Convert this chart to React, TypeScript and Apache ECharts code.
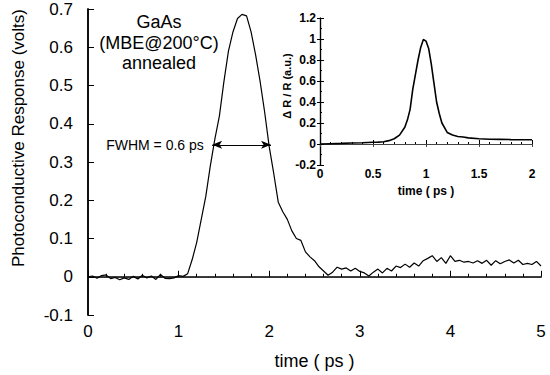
import React, { useEffect, useRef } from "react";
import * as echarts from "echarts";

// Main trace: time (ps) and photoconductive response (volts)
const mainTime: number[] = [
  0.0, 0.05, 0.1, 0.15, 0.2, 0.25, 0.3, 0.35, 0.4, 0.45, 0.5, 0.55, 0.6, 0.65, 0.7, 0.75, 0.8, 0.85, 0.9, 0.95,
  1.0, 1.05, 1.1, 1.15, 1.2, 1.25, 1.3, 1.35, 1.4, 1.45, 1.5, 1.55, 1.6, 1.65, 1.7, 1.75, 1.8, 1.85, 1.9, 1.95,
  2.0, 2.05, 2.1, 2.15, 2.2, 2.25, 2.3, 2.35, 2.4, 2.45, 2.5, 2.55, 2.6, 2.65, 2.7, 2.75, 2.8, 2.85, 2.9, 2.95,
  3.0, 3.05, 3.1, 3.15, 3.2, 3.25, 3.3, 3.35, 3.4, 3.45, 3.5, 3.55, 3.6, 3.65, 3.7, 3.75, 3.8, 3.85, 3.9, 3.95,
  4.0, 4.05, 4.1, 4.15, 4.2, 4.25, 4.3, 4.35, 4.4, 4.45, 4.5, 4.55, 4.6, 4.65, 4.7, 4.75, 4.8, 4.85, 4.9, 4.95,
  5.0,
];
const mainVolts: number[] = [
  0.0, 0.002, -0.004, 0.003, 0.005, -0.005, -0.002, -0.008, -0.003, -0.007, 0.001, -0.006, 0.004, -0.003, 0.002, -0.007, 0.006, -0.004, -0.005, -0.003,
  0.003, 0.001, 0.008, 0.045, 0.09, 0.15, 0.21, 0.29, 0.36, 0.42, 0.51, 0.59, 0.64, 0.675, 0.686, 0.682, 0.64, 0.58, 0.51, 0.43,
  0.34, 0.27, 0.195, 0.17, 0.15, 0.12, 0.1, 0.095, 0.065, 0.052, 0.042, 0.026, 0.015, 0.004, 0.012, 0.025, 0.02, 0.023, 0.015, 0.022,
  0.014, 0.01, 0.002, 0.012, 0.02, 0.01, 0.022, 0.015, 0.028, 0.024, 0.033, 0.025, 0.036, 0.028, 0.042, 0.048, 0.055, 0.04, 0.05, 0.035,
  0.055, 0.04, 0.043, 0.038, 0.04, 0.036, 0.042, 0.035, 0.043, 0.03, 0.042, 0.034, 0.04, 0.044, 0.036, 0.043, 0.032, 0.035, 0.032, 0.04,
  0.028,
];

// Inset trace: time (ps) and ΔR/R (a.u.)
const insetTime: number[] = [
  0, 0.1, 0.2, 0.3, 0.4, 0.5, 0.55, 0.6, 0.65, 0.7, 0.75, 0.8, 0.825, 0.85, 0.875, 0.9, 0.925, 0.95, 0.975, 1.0,
  1.025, 1.05, 1.075, 1.1, 1.125, 1.15, 1.2, 1.25, 1.3, 1.35, 1.4, 1.5, 1.6, 1.7, 1.8, 1.9, 2.0,
];
const insetValue: number[] = [
  0, 0.003, 0.006, 0.01, 0.012, 0.016, 0.018, 0.022, 0.032, 0.05, 0.085, 0.16, 0.23, 0.33, 0.52, 0.66, 0.8, 0.92, 0.995, 0.98,
  0.91, 0.76, 0.58, 0.4, 0.29, 0.2, 0.11, 0.085, 0.072, 0.066, 0.058, 0.05, 0.045, 0.044, 0.042, 0.041, 0.04,
];

// FWHM arrow end points (time ps, volts)
const fwhmStart: number[] = [1.37, 0.345];
const fwhmEnd: number[] = [2.02, 0.345];

const annotationLines: string[] = ["GaAs", "(MBE@200°C)", "annealed"];
const FONT = '"Liberation Sans", Arial, Helvetica, sans-serif';

export default function App() {
  const ref = useRef<HTMLDivElement>(null);

  useEffect(() => {
    if (!ref.current) return;
    const chart = echarts.init(ref.current, undefined, { renderer: "svg" });

    const mainData = mainTime.map((t, i) => [t, mainVolts[i]]);
    const insetData = insetTime.map((t, i) => [t, insetValue[i]]);

    const black = "#000";
    const mainLabel = { color: black, fontSize: 17, fontFamily: FONT };
    const insetLabel = { color: black, fontSize: 12, fontFamily: FONT, fontWeight: "bold" as const };

    const option: any = {
      animation: false,
      backgroundColor: "#fff",
      grid: [
        { left: 88, top: 9, width: 453, height: 308 },
        { left: 320, top: 18, width: 212, height: 147 },
      ],
      xAxis: [
        {
          type: "value", gridIndex: 0, position: "bottom", min: 0, max: 5, interval: 1,
          axisLine: { lineStyle: { color: black, width: 1.5 } },
          axisTick: { inside: true, length: 6, lineStyle: { color: black } },
          minorTick: { show: true, splitNumber: 5, length: 3, lineStyle: { color: black } },
          splitLine: { show: false },
          axisLabel: { ...mainLabel, margin: 8 },
          name: "time ( ps )", nameLocation: "middle", nameGap: 37,
          nameTextStyle: { color: black, fontSize: 18, fontFamily: FONT },
        },
        {
          type: "value", gridIndex: 0, position: "top", min: 0, max: 5,
          axisLine: { lineStyle: { color: "#333", width: 1 } },
          axisTick: { show: false }, axisLabel: { show: false }, splitLine: { show: false },
        },
        {
          type: "value", gridIndex: 1, position: "bottom", min: 0, max: 2, interval: 0.5,
          axisLine: { lineStyle: { color: black, width: 1.2 } },
          axisTick: { inside: true, length: 4, lineStyle: { color: black } },
          minorTick: { show: true, splitNumber: 5, length: 2, lineStyle: { color: black } },
          splitLine: { show: false },
          axisLabel: { ...insetLabel, margin: 3 },
          name: "time ( ps )", nameLocation: "middle", nameGap: 20,
          nameTextStyle: { color: black, fontSize: 12, fontFamily: FONT, fontWeight: "bold" },
        },
        {
          type: "value", gridIndex: 1, position: "top", min: 0, max: 2, interval: 0.5,
          axisLine: { lineStyle: { color: "#444", width: 1 } },
          axisTick: { inside: true, length: 3, lineStyle: { color: "#444" } },
          axisLabel: { show: false }, splitLine: { show: false },
        },
      ],
      yAxis: [
        {
          type: "value", gridIndex: 0, position: "left", min: -0.1, max: 0.7, interval: 0.1,
          axisLine: { show: true, lineStyle: { color: black, width: 1.5 } },
          axisTick: { show: true, inside: true, length: 6, lineStyle: { color: black } },
          splitLine: { show: false },
          axisLabel: { ...mainLabel, margin: 15, formatter: (v: number) => (Math.abs(v) < 1e-9 ? "0" : v.toFixed(1)) },
        },
        {
          type: "value", gridIndex: 0, position: "right", min: -0.1, max: 0.7, interval: 0.1,
          axisLine: { show: true, lineStyle: { color: black, width: 1.5 } },
          axisTick: { show: false }, axisLabel: { show: false }, splitLine: { show: false },
        },
        {
          type: "value", gridIndex: 1, position: "left", min: -0.2, max: 1.2, interval: 0.2,
          axisLine: { show: true, lineStyle: { color: black, width: 1.2 } },
          axisTick: { show: true, inside: true, length: 4, lineStyle: { color: black } },
          minorTick: { show: true, splitNumber: 2, length: 2, lineStyle: { color: black } },
          splitLine: { show: false },
          axisLabel: { ...insetLabel, margin: 4, formatter: (v: number) => (Math.abs(v) < 1e-9 ? "0" : String(Math.round(v * 10) / 10)) },
        },
        {
          type: "value", gridIndex: 1, position: "right", min: -0.2, max: 1.2, interval: 0.2,
          axisLine: { show: true, lineStyle: { color: black, width: 1.2 } },
          axisTick: { show: true, inside: true, length: 3, lineStyle: { color: black } },
          axisLabel: { show: false }, splitLine: { show: false },
        },
      ],
      series: [
        {
          type: "line", xAxisIndex: 0, yAxisIndex: 0, data: mainData, showSymbol: false,
          lineStyle: { color: black, width: 1.2 },
          markLine: {
            silent: true, symbol: ["arrow", "arrow"], symbolSize: [6, 10],
            lineStyle: { color: black, width: 1, type: "solid" },
            label: { show: false },
            data: [[{ coord: fwhmStart }, { coord: fwhmEnd }]],
          },
        },
        {
          type: "line", xAxisIndex: 2, yAxisIndex: 2, data: insetData, showSymbol: false,
          lineStyle: { color: black, width: 1.6 },
        },
      ],
      graphic: [
        {
          type: "text", x: 18, y: 138, rotation: Math.PI / 2,
          style: { text: "Photoconductive Response (volts)", fill: black, font: `17px ${FONT}`, textAlign: "center", textVerticalAlign: "middle" },
        },
        ...annotationLines.map((t, i) => ({
          type: "text", x: 159, y: 22 + i * 20.5,
          style: { text: t, fill: black, font: `18px ${FONT}`, textAlign: "center", textVerticalAlign: "middle" },
        })),
        {
          type: "text", x: 155, y: 145,
          style: { text: "FWHM = 0.6 ps", fill: black, font: `14px ${FONT}`, textAlign: "center", textVerticalAlign: "middle" },
        },
        {
          type: "text", x: 287, y: 86, rotation: Math.PI / 2,
          style: { text: "Δ R / R (a.u.)", fill: black, font: `bold 11px ${FONT}`, textAlign: "center", textVerticalAlign: "middle" },
        },
      ],
    };

    chart.setOption(option);
    return () => chart.dispose();
  }, []);

  return <div ref={ref} style={{ position: "absolute", left: 0, top: 0, width: 550, height: 375, background: "#fff" }} />;
}
